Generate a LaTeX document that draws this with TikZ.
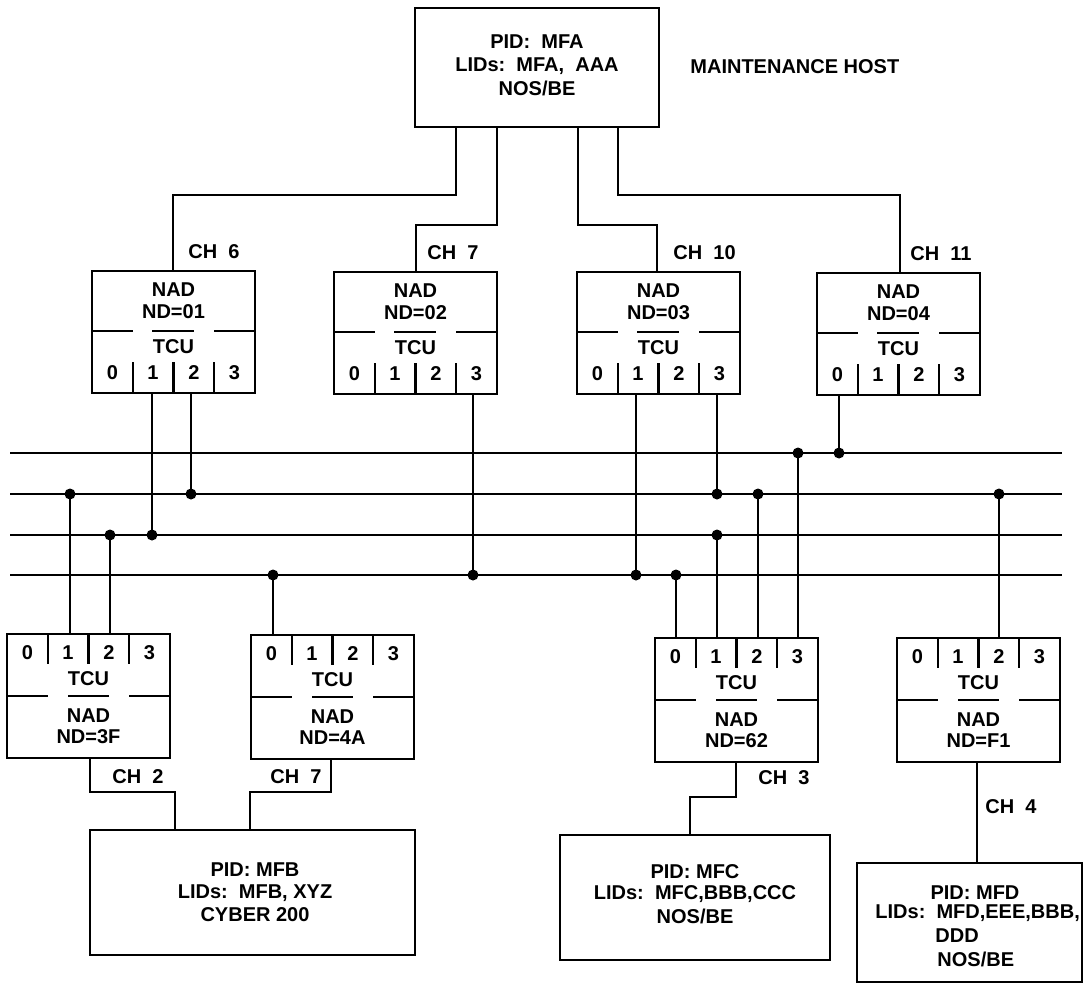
\documentclass[tikz,border=0pt]{standalone}
\usepackage{fontspec}
\setmainfont{Liberation Sans}
\newcommand{\nadup}[4]{%
 \begin{scope}[shift={(#2,#3)}]
  \coordinate (#1) at (0,0);
  \draw[box] (0,0) rectangle (163,122);
  \draw[box] (0,60) -- (41,60) (60,60) -- (102,60) (122,60) -- (163,60);
  \draw[box] (41,91) -- (41,122) (81.5,91) -- (81.5,122) (122,91) -- (122,122);
  \node[lab] at (81.5,19) {NAD};
  \node[lab] at (81.5,41) {ND=#4};
  \node[lab] at (81.5,76) {TCU};
  \node[lab] at (20.5,102) {0};
  \node[lab] at (61,102) {1};
  \node[lab] at (102,102) {2};
  \node[lab] at (142.5,102) {3};
 \end{scope}}
\newcommand{\naddown}[4]{%
 \begin{scope}[shift={(#2,#3)}]
  \coordinate (#1) at (0,0);
  \draw[box] (0,0) rectangle (163,124);
  \draw[box] (0,62) -- (41,62) (61,62) -- (102,62) (122,62) -- (163,62);
  \draw[box] (41,0) -- (41,30) (81.5,0) -- (81.5,30) (122,0) -- (122,30);
  \node[lab] at (81.5,82) {NAD};
  \node[lab] at (81.5,103) {ND=#4};
  \node[lab] at (81.5,45) {TCU};
  \node[lab] at (20.5,19) {0};
  \node[lab] at (61,19) {1};
  \node[lab] at (102,19) {2};
  \node[lab] at (142.5,19) {3};
 \end{scope}}
\begin{document}
\begin{tikzpicture}[x=0.5pt,y=-0.5pt,
  box/.style={line width=1.4pt},
  wire/.style={line width=1pt},
  bus/.style={line width=1pt},
  lab/.style={inner sep=0pt,font=\fontsize{10}{11.5}\selectfont\bfseries},
  jdot/.style={fill=black}]
\useasboundingbox (0,0) rectangle (1090,984);
% maintenance host
\coordinate (mfanw) at (415,8);
\coordinate (mfase) at (659,127);
\draw[box] (mfanw) rectangle (mfase);
\node[lab] (mfa1) at (537,42) {PID:\ \ MFA};
\node[lab] (mfa2) at (537,66) {LIDs:\ \ MFA,\ \ AAA};
\node[lab] (mfa3) at (537,88) {NOS/BE};
\node[lab,anchor=west] (mh) at (690,67) {MAINTENANCE HOST};
% top NADs
\nadup{na}{92}{271}{01}
\nadup{nb}{334}{272}{02}
\nadup{nc}{577}{272}{03}
\nadup{nd}{817}{273}{04}
% channels from host
\coordinate (h6) at (456,127); \coordinate (t6) at (173,271);
\coordinate (h7) at (497,127); \coordinate (t7) at (416,272);
\coordinate (h10) at (578,127); \coordinate (t10) at (657,272);
\coordinate (h11) at (618,127); \coordinate (t11) at (900,273);
\draw[wire] (h6) -- ++(0,68) -| (t6);
\draw[wire] (h7) -- ++(0,98) -| (t7);
\draw[wire] (h10) -- ++(0,98) -| (t10);
\draw[wire] (h11) -- ++(0,68) -| (t11);
\node[lab,anchor=west] (ch6) at (188,252) {CH\ \ 6};
\node[lab,anchor=west] (ch7) at (427,253) {CH\ \ 7};
\node[lab,anchor=west] (ch10) at (673,253) {CH\ \ 10};
\node[lab,anchor=west] (ch11) at (910,254) {CH\ \ 11};
% trunks
\foreach \n/\y in {1/453,2/494,3/535,4/575}{
  \coordinate (b\n w) at (10,\y); \coordinate (b\n e) at (1062,\y);
  \draw[bus] (b\n w) -- (b\n e);}
% junctions
\foreach \nm/\x/\y in {j1/798/453,j2/839/453,j3/70/494,j4/191/494,j5/717/494,j6/758/494,j7/999/494,
  j8/110/535,j9/152/535,j10/717/535,j11/273/575,j12/473/575,j13/636/575,j14/676/575}{
  \coordinate (\nm) at (\x,\y);
  \fill[jdot] (\nm) circle (5.5);}
% bottom NADs
\naddown{ne}{7}{634}{3F}
\naddown{nf}{251}{635}{4A}
\naddown{ng}{655}{638}{62}
\naddown{nh}{897}{638}{F1}
% drops top NADs -> trunks
\coordinate (pa1) at (152,393); \coordinate (pa2) at (191,393);
\coordinate (pb3) at (473,393);
\coordinate (pc1) at (636,393); \coordinate (pc3) at (717,393);
\coordinate (pd0) at (839,394);
\draw[wire] (pa1) -- (j9);
\draw[wire] (pa2) -- (j4);
\draw[wire] (pb3) -- (j12);
\draw[wire] (pc1) -- (j13);
\draw[wire] (pc3) -- (j5);
\draw[wire] (pd0) -- (j2);
% trunks -> bottom NADs
\coordinate (pe1) at (70,634); \coordinate (pe2) at (110,634);
\coordinate (pf0) at (273,635);
\coordinate (pg0) at (676,638); \coordinate (pg1) at (717,638);
\coordinate (pg2) at (758,638); \coordinate (pg3) at (798,638);
\coordinate (ph2) at (999,638);
\draw[wire] (j3) -- (pe1);
\draw[wire] (j8) -- (pe2);
\draw[wire] (j11) -- (pf0);
\draw[wire] (j14) -- (pg0);
\draw[wire] (j10) -- (pg1);
\draw[wire] (j6) -- (pg2);
\draw[wire] (j1) -- (pg3);
\draw[wire] (j7) -- (ph2);
% bottom hosts
\coordinate (mfbnw) at (90,830); \coordinate (mfbse) at (415,955);
\draw[box] (mfbnw) rectangle (mfbse);
\node[lab] (mfb1) at (255,870) {PID: MFB};
\node[lab] (mfb2) at (255,893) {LIDs:\ \ MFB,\ XYZ};
\node[lab] (mfb3) at (255,915) {CYBER 200};
\coordinate (mfcnw) at (560,835); \coordinate (mfcse) at (830,960);
\draw[box] (mfcnw) rectangle (mfcse);
\node[lab] (mfc1) at (695,872) {PID: MFC};
\node[lab] (mfc2) at (695,894) {LIDs:\ \ MFC,BBB,CCC};
\node[lab] (mfc3) at (695,916) {NOS/BE};
\coordinate (mfdnw) at (857,863); \coordinate (mfdse) at (1082,982);
\draw[box] (mfdnw) rectangle (mfdse);
\node[lab] (mfd1) at (975,893) {PID: MFD};
\node[lab,anchor=west] (mfd2) at (875,913) {LIDs:\ \ MFD,EEE,BBB,};
\node[lab,anchor=west] (mfd3) at (935,936) {DDD};
\node[lab,anchor=west] (mfd4) at (937,959) {NOS/BE};
% channels to bottom hosts
\coordinate (qe) at (90,758); \coordinate (ue) at (175,830);
\coordinate (qf) at (331,759); \coordinate (uf) at (250,830);
\coordinate (qg) at (736,762); \coordinate (ug) at (690,835);
\coordinate (qh) at (977,762); \coordinate (uh) at (977,863);
\draw[wire] (qe) -- ++(0,34) -| (ue);
\draw[wire] (qf) -- ++(0,33) -| (uf);
\draw[wire] (qg) -- ++(0,35) -| (ug);
\draw[wire] (qh) -- (uh);
\node[lab,anchor=west] (ch2) at (112,777) {CH\ \ 2};
\node[lab,anchor=west] (ch7b) at (270,777) {CH\ \ 7};
\node[lab,anchor=west] (ch3) at (758,778) {CH\ \ 3};
\node[lab,anchor=west] (ch4) at (985,807) {CH\ \ 4};
\end{tikzpicture}
\end{document}
